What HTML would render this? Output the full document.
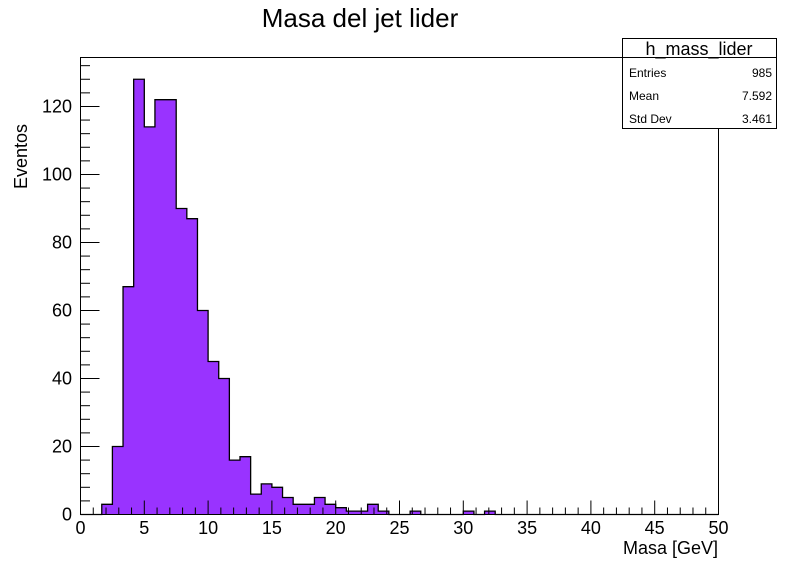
<!DOCTYPE html>
<html><head><meta charset="utf-8"><style>
body{margin:0;background:#fff;}
svg{display:block;font-family:"Liberation Sans",sans-serif;}
</style></head><body>
<svg id="c" width="798" height="571" viewBox="0 0 798 571">
<rect x="0" y="0" width="798" height="571" fill="#fff"/>
<text x="360" y="27" font-size="26" text-anchor="middle">Masa del jet lider</text>
<g id="plot"></g>
<text x="718" y="554" font-size="18" text-anchor="end">Masa [GeV]</text>
<text transform="translate(27,124) rotate(-90)" font-size="18" text-anchor="end">Eventos</text>
<g>
<rect x="622.5" y="38.5" width="154" height="90" fill="#fff" stroke="#000"/>
<line x1="622.5" y1="57.5" x2="776.5" y2="57.5" stroke="#000"/>
<text x="699" y="55" font-size="18" text-anchor="middle">h_mass_lider</text>
<text x="629" y="77" font-size="12">Entries</text>
<text x="772" y="77" font-size="12" text-anchor="end">985</text>
<text x="629" y="100" font-size="12">Mean</text>
<text x="772" y="100" font-size="12" text-anchor="end">7.592</text>
<text x="629" y="123" font-size="12">Std Dev</text>
<text x="772" y="123" font-size="12" text-anchor="end">3.461</text>
</g>
</svg>
<script>
const binCounts=[0,0,3,20,67,128,114,122,122,90,87,60,45,40,16,17,6,9,8,5,3,3,5,3,2,1,1,3,1,0,0,1,0,0,0,0,1,0,1,0,0,0,0,0,0,0,0,0,0,0,0,0,0,0,0,0,0,0,0,0];
const xTicks=[0,5,10,15,20,25,30,35,40,45,50];
const yTicks=[0,20,40,60,80,100,120];
const xMin=0,xMax=50,yMin=0,yMax=134.4;
const L=80.5,R=718.5,T=57.5,B=514.5;
const NS='http://www.w3.org/2000/svg';
const g=document.getElementById('plot');
function sx(v){return L+(v-xMin)/(xMax-xMin)*(R-L);}
function sy(v){return B-(v-yMin)/(yMax-yMin)*(B-T);}
function mk(t,a){const e=document.createElementNS(NS,t);for(const k in a)e.setAttribute(k,a[k]);g.appendChild(e);return e;}
const n=binCounts.length,w=(xMax-xMin)/n;
binCounts.forEach((c,i)=>{if(c<=0)return;
 const r=mk('rect',{x:sx(i*w),y:sy(c),width:sx((i+1)*w)-sx(i*w),height:B-sy(c),fill:'#9933ff',stroke:'#9933ff','stroke-width':0.8,'shape-rendering':'crispEdges'});
 
 
});
let d='M'+sx(0)+','+B;
binCounts.forEach((c,i)=>{d+=' L'+sx(i*w)+','+sy(c)+' L'+sx((i+1)*w)+','+sy(c);});
d+=' L'+sx(xMax)+','+B;
const o=mk('path',{d:d,fill:'none',stroke:'#000','stroke-width':1.3});


const f=mk('rect',{x:L,y:T,width:R-L,height:B-T,fill:'none',stroke:'#000'});


for(let v=0;v<=50.001;v+=1){const big=Math.abs(v%5)<1e-6;
 mk('line',{x1:sx(v),x2:sx(v),y1:B,y2:B-(big?14:7),stroke:'#000'});}
xTicks.forEach(v=>{const t=mk('text',{x:sx(v),y:534,'font-size':18,'text-anchor':'middle'});t.textContent=v;
 
 });
for(let v=0;v<=134;v+=4){const big=v%20===0;
 mk('line',{x1:L,x2:L+(big?19:9.5),y1:sy(v),y2:sy(v),stroke:'#000'});}
yTicks.forEach(v=>{const t=mk('text',{x:72,y:sy(v)+6,'font-size':18,'text-anchor':'end'});t.textContent=v;
 
 });
</script>
</body></html>
